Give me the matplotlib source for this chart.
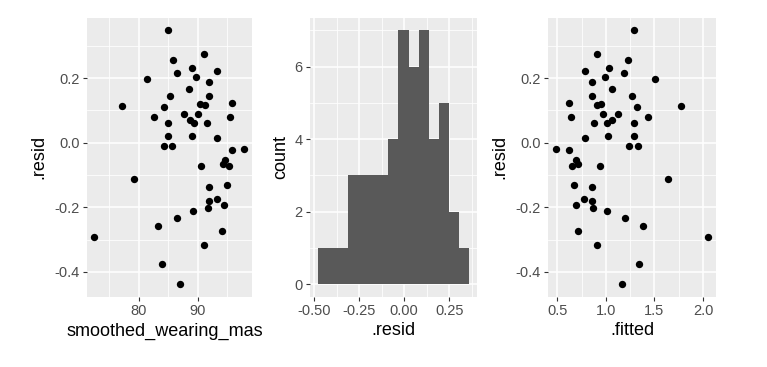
import numpy as np
import matplotlib as mp
mp.use('Agg')
import matplotlib.pyplot as plt
from matplotlib.transforms import Bbox, TransformedBbox

plt.rcParams['font.family'] = ['Liberation Sans', 'DejaVu Sans']

# residuals, shared by the two scatter panels and the histogram
resid = [0.348, 0.274, 0.257, 0.216, 0.231, 0.223, 0.204, 0.198, 0.189, 0.165,
         0.145, 0.146, 0.112, 0.109, 0.123, 0.121, 0.116, 0.078, 0.090, 0.089,
         0.079, 0.071, 0.062, 0.062, 0.061, 0.020, 0.021, 0.015, -0.009, -0.010,
         -0.023, -0.021, -0.072, -0.053, -0.067, -0.071, -0.114, -0.130, -0.136, -0.173,
         -0.182, -0.201, -0.192, -0.212, -0.232, -0.258, -0.273, -0.291, -0.317, -0.375,
         -0.439]
wearing_mask = [84.94, 91.12, 85.79, 86.52, 89.04, 93.2, 89.66, 81.4, 91.9, 88.54,
                85.2, 91.9, 77.08, 84.33, 95.73, 90.34, 91.18, 82.58, 87.58, 90.11,
                95.39, 88.65, 89.44, 84.94, 91.63, 85.0, 89.1, 93.2, 84.27, 85.67,
                95.73, 97.92, 90.5, 94.55, 94.33, 95.28, 79.1, 94.94, 91.85, 93.3,
                91.9, 91.8, 94.5, 89.27, 86.46, 83.26, 94.16, 72.47, 91.07, 83.99,
                86.97]
fitted = [1.286, 0.905, 1.231, 1.189, 1.037, 0.781, 0.995, 1.501, 0.860, 1.065,
          1.272, 0.860, 1.771, 1.321, 0.625, 0.954, 0.905, 1.432, 1.120, 0.968,
          0.642, 1.058, 1.009, 1.286, 0.878, 1.286, 1.027, 0.781, 1.327, 1.241,
          0.621, 0.483, 0.943, 0.694, 0.708, 0.649, 1.643, 0.670, 0.857, 0.774,
          0.857, 0.864, 0.694, 1.016, 1.193, 1.383, 0.715, 2.055, 0.909, 1.345,
          1.162]

W, H = 767, 367
BG = '#EBEBEB'
TICKC = '#4D4D4D'
TITLE_FS = 13
TICK_FS = 10.5


def gg_axes(ax, xmaj, ymaj):
    ax.set_facecolor(BG)
    for s in ax.spines.values():
        s.set_visible(False)
    ax.set_xticks(xmaj)
    ax.set_yticks(ymaj)
    xm = [(a + b) / 2 for a, b in zip(xmaj[:-1], xmaj[1:])]
    ym = [(a + b) / 2 for a, b in zip(ymaj[:-1], ymaj[1:])]
    dx = xmaj[1] - xmaj[0]
    dy = ymaj[1] - ymaj[0]
    xm = [xmaj[0] - dx / 2] + xm + [xmaj[-1] + dx / 2]
    ym = [ymaj[0] - dy / 2] + ym + [ymaj[-1] + dy / 2]
    ax.set_xticks(xm, minor=True)
    ax.set_yticks(ym, minor=True)
    ax.grid(which='major', color='white', linewidth=1.1)
    ax.grid(which='minor', color='white', linewidth=0.55)
    ax.set_axisbelow(True)
    ax.tick_params(which='major', length=3.2, width=0.8, color='#333333',
                   labelcolor=TICKC, labelsize=TICK_FS, pad=2)
    ax.tick_params(which='minor', length=0)


def add_ax(x0, x1, y0=17.7, y1=297):
    return fig.add_axes([x0 / W, (H - y1) / H, (x1 - x0) / W, (y1 - y0) / H])


fig = plt.figure(figsize=(W / 100, H / 100), dpi=100)

# panel 1
ax1 = add_ax(87, 252)
ax1.scatter(wearing_mask, resid, s=28, color='black', linewidths=0, zorder=3)
gg_axes(ax1, [80, 90], [-0.4, -0.2, 0.0, 0.2])
ax1.set_xlim(71.2, 99.2)
ax1.set_ylim(-0.478, 0.387)
ax1.set_xticklabels(['80', '90'])
ax1.set_yticklabels(['-0.4', '-0.2', '0.0', '0.2'])
lab = ax1.set_xlabel('smoothed_wearing_mask', fontsize=TITLE_FS, labelpad=3)
ax1.set_ylabel('.resid', fontsize=TITLE_FS, labelpad=5)
lab.set_clip_box(TransformedBbox(Bbox.from_extents(0, 0, 263 / W, 1), fig.transFigure))
lab.set_clip_on(True)

# panel 2: histogram
ax2 = add_ax(310, 476.7)
edges = -0.48 + 0.056 * np.arange(16)
ax2.hist(resid, bins=edges, color='#595959', zorder=3)
gg_axes(ax2, [-0.5, -0.25, 0.0, 0.25], [0, 2, 4, 6])
ax2.set_xlim(-0.522, 0.402)
ax2.set_ylim(-0.35, 7.35)
ax2.set_xticklabels(['-0.50', '-0.25', '0.00', '0.25'])
ax2.set_xlabel('.resid', fontsize=TITLE_FS, labelpad=3)
ax2.set_ylabel('count', fontsize=TITLE_FS, labelpad=4)

# panel 3
ax3 = add_ax(548, 716)
ax3.scatter(fitted, resid, s=28, color='black', linewidths=0, zorder=3)
gg_axes(ax3, [0.5, 1.0, 1.5, 2.0], [-0.4, -0.2, 0.0, 0.2])
ax3.set_xlim(0.404, 2.134)
ax3.set_ylim(-0.478, 0.387)
ax3.set_yticklabels(['-0.4', '-0.2', '0.0', '0.2'])
ax3.set_xlabel('.fitted', fontsize=TITLE_FS, labelpad=3)
ax3.set_ylabel('.resid', fontsize=TITLE_FS, labelpad=5)

fig.savefig('out.png', dpi=100)
